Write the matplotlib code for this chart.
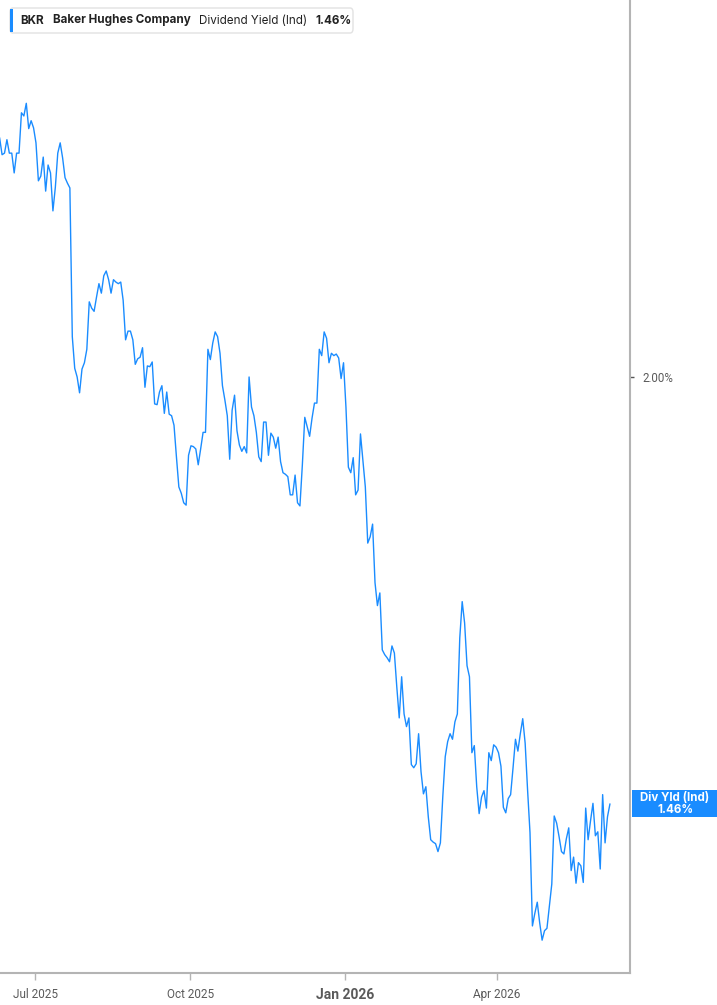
import numpy as np
import pandas as pd
import matplotlib
matplotlib.use("Agg")
import matplotlib.pyplot as plt
from matplotlib.patches import Rectangle, FancyBboxPatch

# ---------------------------------------------------------------------------
# Data
ticker = "BKR"
company = "Baker Hughes Company"
metric = "Dividend Yield (Ind)"
short_metric = "Div Yld (Ind)"

first_date = "2025-06-10"
last_date = "2026-06-07"

div_yield = [
    2.302, 2.281, 2.283, 2.300, 2.283, 2.283, 2.258, 2.283, 2.283, 2.334,
    2.330, 2.346, 2.314, 2.324, 2.315, 2.296, 2.248, 2.254, 2.278, 2.235,
    2.268, 2.258, 2.210, 2.240, 2.283, 2.296, 2.277, 2.252, 2.245, 2.239,
    2.051, 2.011, 2.000, 1.980, 2.010, 2.018, 2.035, 2.095, 2.087, 2.083,
    2.101, 2.118,
    2.106, 2.128, 2.134, 2.123, 2.106, 2.123, 2.120, 2.118, 2.120, 2.097,
    2.047, 2.058, 2.058, 2.047, 2.016, 2.023, 2.025, 2.037, 1.987, 2.014,
    2.013, 2.019, 1.966, 1.965, 1.981, 1.989, 1.954, 1.981, 1.953, 1.951,
    1.939, 1.899, 1.861, 1.853, 1.841, 1.838, 1.901, 1.913, 1.912, 1.909,
    1.889, 1.909, 1.930, 1.930, 2.035, 2.022,
    2.043, 2.057, 2.051, 2.030, 1.989, 1.971, 1.951, 1.896, 1.958, 1.977,
    1.932, 1.914, 1.906, 1.912, 1.904, 2.000, 1.962, 1.951, 1.930, 1.899,
    1.893, 1.943, 1.943, 1.901, 1.929, 1.924, 1.910, 1.924, 1.893, 1.879,
    1.877, 1.874, 1.851, 1.851, 1.876, 1.841, 1.837, 1.889, 1.949,
    1.937, 1.925, 1.948, 1.967, 1.967, 2.035, 2.027, 2.057, 2.049, 2.018,
    2.030, 2.027, 2.029, 2.024, 1.998, 2.018, 1.962, 1.886, 1.879, 1.898,
    1.851, 1.857, 1.928, 1.895, 1.861, 1.790, 1.798, 1.814, 1.740, 1.711,
    1.727, 1.655, 1.649, 1.645, 1.640, 1.660, 1.651, 1.608, 1.569, 1.621,
    1.574, 1.558, 1.569,
    1.510, 1.506, 1.511, 1.549, 1.501, 1.473, 1.482, 1.444, 1.415, 1.412,
    1.410, 1.400, 1.411, 1.470, 1.520, 1.539, 1.549, 1.542, 1.564, 1.574,
    1.670, 1.716, 1.689, 1.635, 1.621, 1.525, 1.534, 1.482, 1.448, 1.469,
    1.477, 1.455, 1.525, 1.515, 1.535, 1.532, 1.525, 1.508, 1.456, 1.449,
    1.467,
    1.472, 1.506, 1.542, 1.527, 1.549, 1.568, 1.537, 1.478, 1.424, 1.306,
    1.322, 1.336, 1.310, 1.288, 1.300, 1.303, 1.331, 1.359, 1.445, 1.436,
    1.419, 1.400, 1.397, 1.416, 1.430, 1.376, 1.393, 1.360, 1.386, 1.382,
    1.361, 1.455, 1.415, 1.439, 1.461, 1.420, 1.425, 1.378, 1.472, 1.411,
    1.444, 1.460,
]

tick_dates = ["2025-07-01", "2025-10-01", "2026-01-01", "2026-04-01"]
tick_labels = ["Jul 2025", "Oct 2025", "Jan 2026", "Apr 2026"]
y_ticks = [2.00]

x_range = ("2025-06-10 05:00", "2026-06-18 22:00")
y_range = (1.2465, 2.4766)

# ---------------------------------------------------------------------------
LINE = "#1a8cff"
AXIS = "#b4b4b4"
TXT = "#5a5a5a"
DARK = "#222222"

W, H = 717, 1005
dates = pd.date_range(first_date, last_date, periods=len(div_yield))

fig = plt.figure(figsize=(W / 100, H / 100), dpi=100)
ax = fig.add_axes([0, 1 - 973 / H, 630 / W, 973 / H])

ax.plot(dates, div_yield, color=LINE, lw=1.0)

ax.set_xlim(pd.Timestamp(x_range[0]), pd.Timestamp(x_range[1]))
ax.set_ylim(*y_range)

for side in ("top", "left"):
    ax.spines[side].set_visible(False)
for side in ("right", "bottom"):
    ax.spines[side].set_color(AXIS)
    ax.spines[side].set_linewidth(1.5)

narrow = ["Liberation Sans Narrow", "Roboto", "DejaVu Sans"]

ax.yaxis.tick_right()
ax.set_yticks(y_ticks)
ax.set_yticklabels([f"{v:.2f}%" for v in y_ticks], family=["Roboto", "DejaVu Sans"])
ax.tick_params(axis="y", direction="out", length=3, width=1, color="#555555",
               labelsize=8.3, labelcolor=TXT, pad=6)

ax.set_xticks(pd.to_datetime(tick_dates))
ax.set_xticklabels(tick_labels, family=narrow)
ax.tick_params(axis="x", direction="out", length=5, width=1, color=AXIS,
               labelsize=8.5, labelcolor=TXT, pad=6)
for lab in ax.get_xticklabels():
    if lab.get_text().startswith("Jan"):
        lab.set_fontweight("bold")
        lab.set_fontsize(10)


def fx(px):
    return px / W


def fy(py):
    return 1 - py / H


# header box
fig.patches.append(FancyBboxPatch((fx(10), fy(33)), fx(343), 25 / H,
                                  boxstyle="round,pad=0,rounding_size=0.004",
                                  transform=fig.transFigure, facecolor="white",
                                  edgecolor="#e2e2e2", lw=1, zorder=5))
fig.patches.append(Rectangle((fx(10), fy(32)), fx(3), 23 / H, transform=fig.transFigure,
                             facecolor=LINE, edgecolor="none", zorder=6))

hdr = ["Inter", "DejaVu Sans"]
parts = [(ticker, "bold"), (company, "bold"), (metric, "normal"),
         (f"{div_yield[-1]:.2f}%", "bold")]
gaps = [9, 9, 8]
renderer = fig.canvas.get_renderer()
x_px = 20
for i, (txt, weight) in enumerate(parts):
    t = fig.text(fx(x_px), fy(20.5), txt, fontsize=8.4, fontweight=weight, color=DARK,
                 va="center", family=hdr, zorder=7)
    bb = t.get_window_extent(renderer)
    if i < len(gaps):
        x_px += bb.width + gaps[i]

# last value badge on the right axis
fig.canvas.draw()
y_disp = ax.transData.transform((ax.get_xlim()[0], div_yield[-1]))[1]
fig.patches.append(Rectangle((fx(632), (y_disp - 13) / H), fx(85), 27 / H,
                             transform=fig.transFigure, facecolor=LINE,
                             edgecolor="none", zorder=5))
fig.text(fx(675), (y_disp + 6) / H, short_metric, fontsize=8.3, fontweight="bold",
         color="white", ha="center", va="center", family=hdr, zorder=7)
fig.text(fx(675), (y_disp - 6) / H, f"{div_yield[-1]:.2f}%", fontsize=8.3,
         fontweight="bold", color="white", ha="center", va="center", family=hdr, zorder=7)

fig.savefig("out.png", dpi=100)
